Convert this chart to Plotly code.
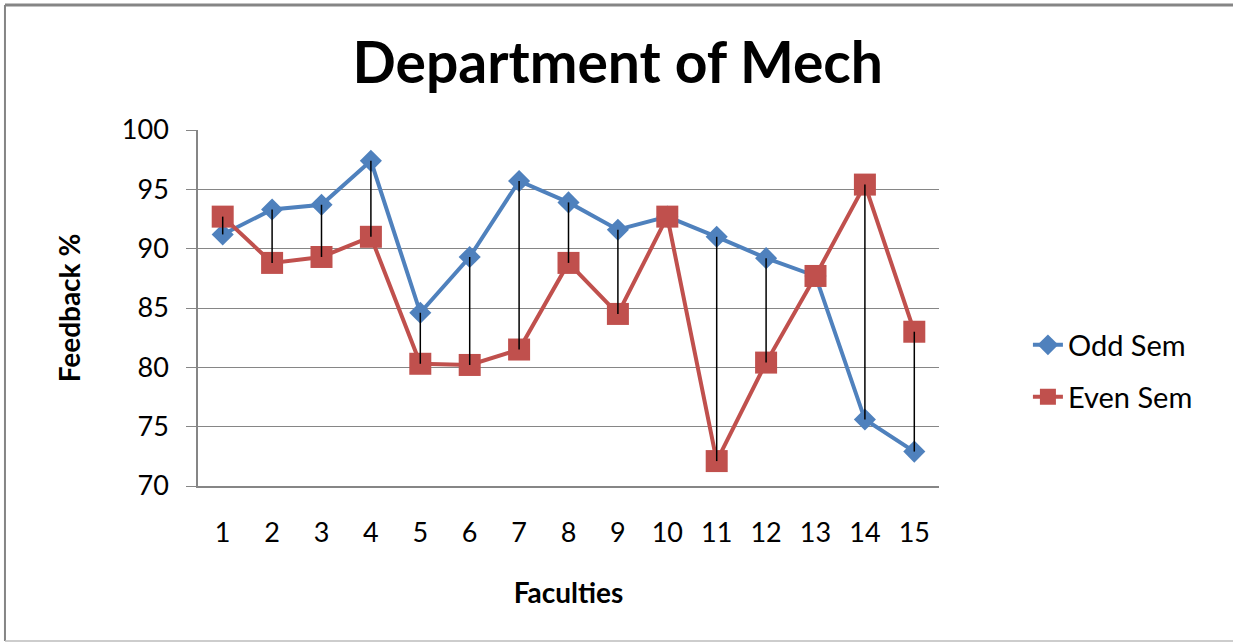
import plotly.graph_objects as go

# Data
faculties = list(range(1, 16))
odd_sem = [91.2, 93.3, 93.7, 97.4, 84.6, 89.3, 95.7, 93.9, 91.6, 92.7, 91.0, 89.2, 87.7, 75.6, 72.9]
even_sem = [92.7, 88.8, 89.3, 91.0, 80.3, 80.2, 81.5, 88.8, 84.5, 92.7, 72.1, 80.4, 87.7, 95.4, 83.0]

BLUE = "#4F81BD"
RED = "#C0504D"
FONT = "Lato"

# high-low lines between the two series
hl_x, hl_y = [], []
for f, o, e in zip(faculties, odd_sem, even_sem):
    hl_x += [f, f, None]
    hl_y += [o, e, None]

fig = go.Figure()
fig.add_trace(go.Scatter(
    x=faculties, y=odd_sem, name="Odd Sem", mode="lines+markers",
    line=dict(color=BLUE, width=4),
    marker=dict(symbol="diamond", size=17, color=BLUE),
    legend="legend",
))
fig.add_trace(go.Scatter(
    x=faculties, y=even_sem, name="Even Sem", mode="lines+markers",
    line=dict(color=RED, width=4),
    marker=dict(symbol="square", size=22, color=RED),
    legend="legend2",
))
fig.add_trace(go.Scatter(
    x=hl_x, y=hl_y, mode="lines", showlegend=False,
    line=dict(color="black", width=1.5), hoverinfo="skip",
))

fig.update_layout(
    width=1233, height=644,
    margin=dict(l=198, r=294, t=130, b=158),
    plot_bgcolor="white", paper_bgcolor="white",
    font=dict(family=FONT, color="black"),
    title=dict(
        text="Department of Mech", x=0.501, xanchor="center", y=0.9026, yanchor="middle",
        font=dict(family=FONT, size=57, weight="bold", color="black"),
    ),
    legend=dict(x=1.12, xanchor="left", y=0.396, yanchor="middle",
                font=dict(family=FONT, size=29), bgcolor="rgba(0,0,0,0)"),
    legend2=dict(x=1.12, xanchor="left", y=0.25, yanchor="middle",
                 font=dict(family=FONT, size=29), bgcolor="rgba(0,0,0,0)"),
    shapes=[
        # frame of the chart object
        dict(type="line", xref="paper", yref="paper", x0=-0.2605, x1=1.41, y0=1.351, y1=1.351,
             line=dict(color="#858585", width=3)),
        dict(type="line", xref="paper", yref="paper", x0=-0.2605, x1=-0.2605, y0=1.351, y1=-0.4354,
             line=dict(color="#858585", width=2)),
        dict(type="line", xref="paper", yref="paper", x0=-0.2605, x1=1.41, y0=-0.4354, y1=-0.4354,
             line=dict(color="#bdbdbd", width=1.5)),
    ],
)

fig.update_xaxes(
    range=[0.5, 15.5], tickvals=faculties, ticks="", ticklabelstandoff=22,
    showgrid=False, showline=True, linecolor="#868686", linewidth=1.5,
    tickfont=dict(family=FONT, size=27, color="black"),
    title=dict(text="Faculties", standoff=36, font=dict(family=FONT, size=28, weight="bold")),
    zeroline=False,
)
fig.update_yaxes(
    range=[70, 100], dtick=5, ticks="outside", ticklen=10, tickcolor="#868686",
    ticklabelstandoff=12,
    showgrid=True, gridcolor="#868686", gridwidth=1,
    showline=True, linecolor="#868686", linewidth=1.5,
    tickfont=dict(family=FONT, size=27, color="black"),
    title=dict(text="Feedback %", standoff=33, font=dict(family=FONT, size=28, weight="bold")),
    zeroline=False,
)

# drop the default body margin so the figure sits at the window's corner
fig.write_html("out.html", config={"displayModeBar": False},
               post_script="document.body.style.margin = '0';")
